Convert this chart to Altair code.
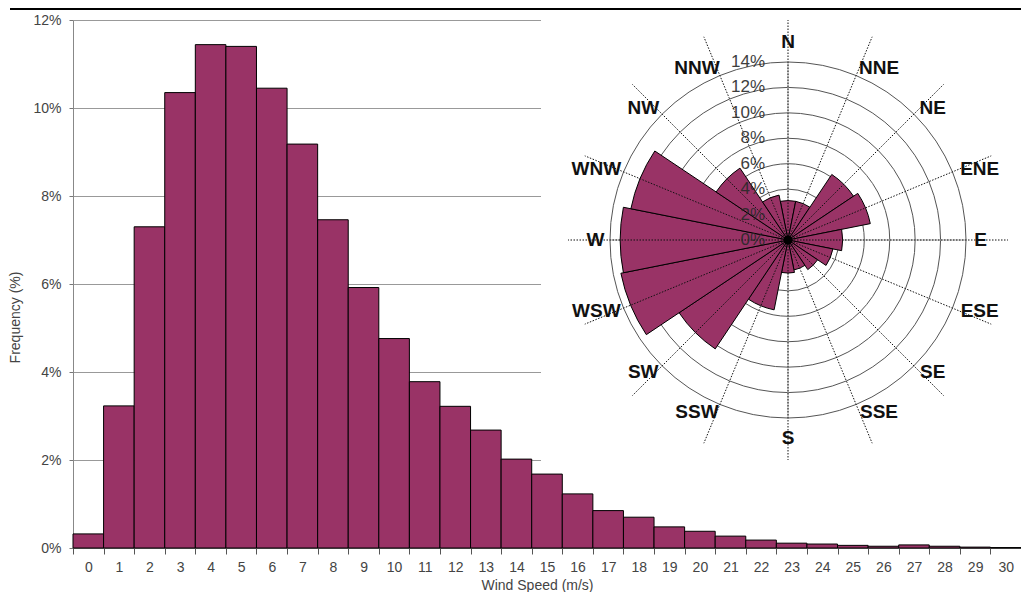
import math
import altair as alt
import pandas as pd

# ---------------- data ----------------
speeds = list(range(31))
speed_freq = [0.32, 3.23, 7.30, 10.35, 11.44, 11.40, 10.45, 9.18, 7.46, 5.92,
              4.76, 3.78, 3.22, 2.68, 2.02, 1.68, 1.23, 0.85, 0.70, 0.48,
              0.38, 0.27, 0.18, 0.11, 0.09, 0.06, 0.04, 0.07, 0.04, 0.02, 0.01]

directions = ["N", "NNE", "NE", "ENE", "E", "ESE", "SE", "SSE",
              "S", "SSW", "SW", "WSW", "W", "WNW", "NW", "NNW"]
dir_freq = [3.1, 3.1, 6.2, 6.6, 4.3, 3.6, 2.8, 2.4,
            2.6, 5.6, 10.3, 13.4, 13.2, 12.6, 6.8, 3.6]

ring_values = [0, 2, 4, 6, 8, 10, 12, 14]
ring_labels = ["0%", "2%", "4%", "6%", "8%", "10%", "12%", "14%"]

y_ticks = [0, 2, 4, 6, 8, 10, 12]

# ---------------- frames ----------------
hist_df = pd.DataFrame({"speed": speeds, "freq": speed_freq})
rose_df = pd.DataFrame({"dir": directions, "idx": list(range(len(directions))), "freq": dir_freq})
ring_df = pd.DataFrame({"ring": ring_values[1:]})
ringlab_df = pd.DataFrame({"ring": ring_values, "label": ring_labels})
dummy = pd.DataFrame({"a": [0]})

PURPLE = "#993366"
FONT = "Liberation Sans"
CX, CY, R = 715, 220, 178          # rose centre / outer radius in plot px
RMAX = max(ring_values)

# ---------------- histogram ----------------
bars = alt.Chart(hist_df).mark_bar(fill=PURPLE, stroke="black", strokeWidth=1).encode(
    x=alt.X("speed:O",
            scale=alt.Scale(paddingInner=0, paddingOuter=0),
            axis=alt.Axis(title="Wind Speed (m/s)", labelAngle=0, tickBand="extent",
                          tickSize=6, tickColor="#555", domainColor="#777",
                          labelPadding=6, labelFontSize=14, labelColor="#444",
                          labelFont=FONT, titleFont=FONT, titleFontSize=14,
                          titleFontWeight="normal", titleColor="#444",
                          titleX=464, titleY=41, titleBaseline="alphabetic",
                          grid=False)),
    y=alt.Y("freq:Q",
            scale=alt.Scale(domain=[0, 12], nice=False),
            axis=alt.Axis(title="Frequency (%)", values=y_ticks,
                          labelExpr="datum.value + '%'", tickSize=4,
                          tickColor="#777", domainColor="#888",
                          gridColor="#999", gridWidth=1,
                          labelPadding=8, labelFontSize=14, labelColor="#444",
                          labelFont=FONT, titleFont=FONT, titleFontSize=14,
                          titleFontWeight="normal", titleColor="#444",
                          titleX=-58, titleY=297, titleBaseline="middle")),
)

box = alt.Chart(dummy).mark_rect(fill="white").encode(
    x=alt.value(468), x2=alt.value(960), y=alt.value(-12), y2=alt.value(446)
)

topline = alt.Chart(dummy).mark_rule(color="black", strokeWidth=2).encode(
    x=alt.value(-63), x2=alt.value(960), y=alt.value(-11)
)

hist_layer = alt.layer(bars, box)

# ---------------- wind rose ----------------
xs = alt.Scale(domain=[-RMAX, RMAX], range=[CX - R, CX + R], nice=False, zero=False)
ys = alt.Scale(domain=[-RMAX, RMAX], range=[CY + R, CY - R], nice=False, zero=False)
rs = alt.Scale(type="linear", domain=[0, RMAX], range=[0, R], zero=True)

rings = alt.Chart(ring_df).transform_calculate(
    t0="0", t1="2 * PI"
).mark_arc(filled=False, stroke="#555", strokeWidth=1).encode(
    theta=alt.Theta("t0:Q", scale=None), theta2="t1:Q",
    radius=alt.Radius("ring:Q", scale=rs, stack=False),
    x=alt.value(CX), y=alt.value(CY),
)

cardinal = alt.Chart(rose_df).transform_filter("datum.idx % 4 == 0").transform_calculate(
    zx="0", zy="0",
    ex=f"{RMAX} * sin(datum.idx * PI / 8)",
    ey=f"{RMAX} * cos(datum.idx * PI / 8)",
).mark_rule(color="#aaa", strokeWidth=1).encode(
    x=alt.X("zx:Q", scale=xs, axis=None), y=alt.Y("zy:Q", scale=ys, axis=None),
    x2="ex:Q", y2="ey:Q",
)

petals = alt.Chart(rose_df).transform_calculate(
    t0="(datum.idx - 0.5) * PI / 8",
    t1="(datum.idx + 0.5) * PI / 8",
).mark_arc(fill=PURPLE, stroke="black", strokeWidth=1).encode(
    theta=alt.Theta("t0:Q", scale=None), theta2="t1:Q",
    radius=alt.Radius("freq:Q", scale=rs, stack=False),
    x=alt.value(CX), y=alt.value(CY),
)

spokes = alt.Chart(rose_df).transform_calculate(
    zx="0", zy="0",
    ex="17.3 * sin(datum.idx * PI / 8)",
    ey="17.3 * cos(datum.idx * PI / 8)",
).mark_rule(color="#111", strokeWidth=1, strokeDash=[1.5, 1.5]).encode(
    x=alt.X("zx:Q", scale=xs, axis=None), y=alt.Y("zy:Q", scale=ys, axis=None),
    x2="ex:Q", y2="ey:Q",
)

centre = alt.Chart(dummy).transform_calculate(zx="0", zy="0").mark_circle(
    color="black", opacity=1, size=80
).encode(x=alt.X("zx:Q", scale=xs, axis=None), y=alt.Y("zy:Q", scale=ys, axis=None))

ringlab = alt.Chart(ringlab_df).transform_calculate(lx="-1.8").mark_text(
    align="right", baseline="middle", fontSize=17, font=FONT, color="#2a2a2a", opacity=0.9
).encode(
    x=alt.X("lx:Q", scale=xs, axis=None),
    y=alt.Y("ring:Q", scale=ys, axis=None),
    text="label:N",
)

dirlab = alt.Chart(rose_df).transform_calculate(
    s="sin(datum.idx * PI / 8)",
    c="cos(datum.idx * PI / 8)",
).transform_calculate(
    sg="datum.s > 0.01 ? 1 : (datum.s < -0.01 ? -1 : 0)",
).transform_calculate(
    lx="14.63 * datum.s + 0.52 * length(datum.dir) * datum.sg",
    ly="14.63 * datum.c + (datum.sg == 0 ? 0.94 * datum.c : 0)",
).mark_text(
    align="center", baseline="middle", fontSize=19, fontWeight="bold", font=FONT, color="#111"
).encode(
    x=alt.X("lx:Q", scale=xs, axis=None),
    y=alt.Y("ly:Q", scale=ys, axis=None),
    text="dir:N",
)

rose_layer = alt.layer(rings, cardinal, petals, spokes, centre, ringlab, dirlab, topline)

chart = alt.layer(hist_layer, rose_layer).resolve_scale(
    x="independent", y="independent"
).properties(
    width=948, height=528,
    padding={"left": 65, "top": 12, "right": 0, "bottom": 44},
    autosize="none",
    background="white",
).configure_view(strokeWidth=0)

chart.save("out.html", embed_options={"renderer": "svg", "actions": False})
